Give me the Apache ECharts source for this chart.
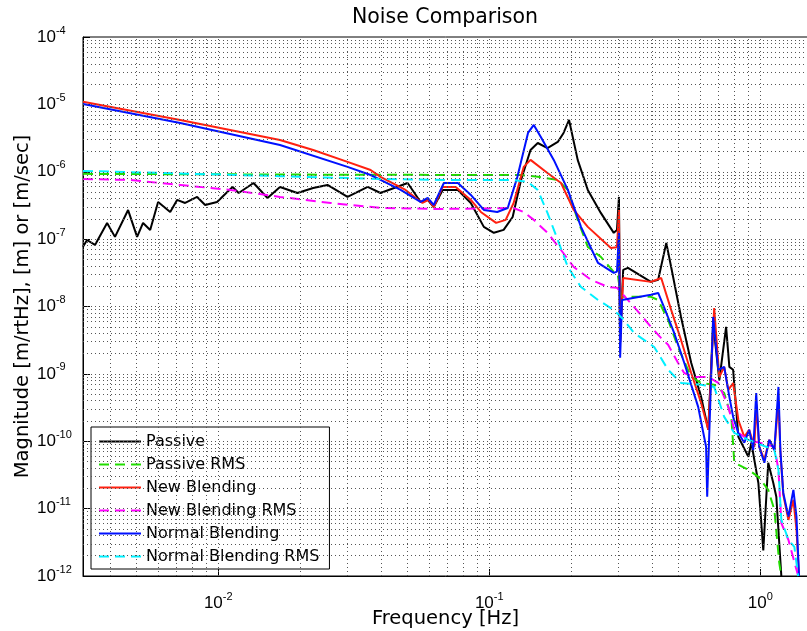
<!DOCTYPE html>
<html>
<head>
<meta charset="utf-8">
<title>Noise Comparison</title>
<script src="https://cdn.jsdelivr.net/npm/echarts@6/dist/echarts.min.js"></script>
<style>
  html, body { margin: 0; padding: 0; background: #fff; }
  #chart { width: 807px; height: 631px; }
</style>
</head>
<body>
<div id="chart"></div>
<script>
// [frequency Hz, magnitude]
const passive = [
  [0.00317, 7.7e-8], [0.00328, 9.7e-8], [0.00351, 8.2e-8], [0.00389, 1.74e-7], [0.00416, 1.08e-7],
  [0.00465, 2.7e-7], [0.00502, 1.08e-7], [0.00528, 1.74e-7], [0.00561, 1.37e-7], [0.0060, 3.56e-7],
  [0.00665, 2.53e-7], [0.00705, 3.82e-7], [0.00755, 3.44e-7], [0.00836, 4.23e-7], [0.00895, 3.21e-7],
  [0.0099, 3.56e-7], [0.0108, 5.0e-7], [0.0113, 5.95e-7], [0.0119, 4.84e-7], [0.0135, 6.8e-7],
  [0.0152, 4.08e-7], [0.0169, 5.95e-7], [0.0196, 4.84e-7], [0.0224, 5.75e-7], [0.0253, 6.37e-7],
  [0.030, 4.23e-7], [0.0356, 5.95e-7], [0.0397, 4.84e-7], [0.050, 6.8e-7], [0.0558, 3.56e-7],
  [0.0593, 3.82e-7], [0.0624, 3.0e-7], [0.0673, 5.37e-7], [0.0766, 5.37e-7], [0.0855, 3.44e-7],
  [0.0955, 1.52e-7], [0.104, 1.24e-7], [0.113, 1.37e-7], [0.122, 2.13e-7], [0.131, 7.55e-7],
  [0.142, 2.1e-6], [0.151, 2.67e-6], [0.164, 2.25e-6], [0.179, 2.77e-6], [0.188, 3.77e-6],
  [0.197, 5.87e-6], [0.212, 1.5e-6], [0.231, 5.37e-7], [0.258, 2.45e-7], [0.288, 1.24e-7],
  [0.296, 1.37e-7], [0.301, 4.23e-7], [0.304, 3.0e-9], [0.312, 3.49e-8], [0.325, 3.75e-8],
  [0.395, 2.32e-8], [0.420, 2.5e-8], [0.450, 8.8e-8], [0.469, 3.86e-8], [0.510, 7.0e-9],
  [0.556, 1.46e-9], [0.605, 4.56e-10], [0.643, 1.48e-10], [0.670, 5.7e-9], [0.706, 8.0e-10],
  [0.748, 4.98e-9], [0.769, 1.27e-9], [0.794, 1.15e-9], [0.830, 1.16e-10], [0.904, 5.9e-11],
  [0.927, 9.5e-11], [0.984, 2.4e-11], [1.026, 2.4e-12], [1.07, 4.8e-11], [1.117, 2.4e-11],
  [1.146, 1.5e-11], [1.196, 1e-12]
];

const passiveRms = [
  [0.00317, 9.3e-7], [0.0169, 9.1e-7], [0.0397, 9.0e-7], [0.131, 8.96e-7], [0.151, 8.4e-7],
  [0.179, 7.55e-7], [0.195, 5.37e-7], [0.212, 1.93e-7], [0.231, 7.66e-8], [0.258, 5.45e-8],
  [0.288, 3.26e-8], [0.298, 3.0e-8], [0.306, 1.39e-8], [0.395, 1.39e-8], [0.420, 1.25e-8],
  [0.457, 6.3e-9], [0.497, 2.51e-9], [0.556, 9.0e-10], [0.605, 7.34e-10], [0.676, 6.9e-10],
  [0.736, 5.2e-10], [0.782, 2.3e-10], [0.802, 4.8e-11], [0.904, 3.77e-11], [0.984, 2.96e-11],
  [1.07, 1.9e-11], [1.127, 9.6e-12], [1.175, 1.57e-12], [1.196, 1e-12]
];

const newBlending = [
  [0.00317, 1.09e-5], [0.00724, 5.87e-6], [0.0169, 2.96e-6], [0.0224, 2.1e-6], [0.030, 1.4e-6],
  [0.0365, 1.06e-6], [0.0397, 8.4e-7], [0.0491, 5.37e-7], [0.0567, 3.44e-7], [0.0597, 3.82e-7],
  [0.0624, 3.0e-7], [0.0673, 5.95e-7], [0.0752, 5.95e-7], [0.0855, 3.82e-7], [0.0931, 2.53e-7],
  [0.106, 1.74e-7], [0.115, 1.93e-7], [0.123, 3.44e-7], [0.134, 1.18e-6], [0.142, 1.5e-6],
  [0.164, 9.6e-7], [0.184, 6.8e-7], [0.205, 2.71e-7], [0.231, 1.52e-7], [0.281, 7.4e-8],
  [0.296, 7.6e-8], [0.301, 2.7e-7], [0.304, 3.0e-9], [0.312, 2.65e-8], [0.395, 2.32e-8],
  [0.431, 2.65e-8], [0.469, 8.9e-9], [0.510, 3.19e-9], [0.556, 1.03e-9], [0.605, 3.7e-10],
  [0.643, 1.48e-10], [0.676, 9.5e-9], [0.706, 9.0e-10], [0.736, 1.27e-9], [0.762, 5.8e-10],
  [0.794, 7.3e-10], [0.830, 2.07e-10], [0.873, 1.16e-10], [0.910, 1.48e-10], [0.951, 8.3e-11],
  [0.966, 3.47e-10], [0.991, 8.3e-11], [1.035, 5.3e-11], [1.08, 1.05e-10], [1.127, 7.4e-11],
  [1.167, 4.1e-10], [1.186, 7e-11], [1.216, 1.6e-11], [1.27, 6.8e-12], [1.325, 1.35e-11],
  [1.36, 4.9e-12], [1.39, 1e-12]
];

const newBlendingRms = [
  [0.00317, 7.8e-7], [0.00473, 7.55e-7], [0.00724, 6.37e-7], [0.0111, 5.37e-7], [0.0169, 4.23e-7],
  [0.026, 3.44e-7], [0.0397, 2.9e-7], [0.066, 2.8e-7], [0.123, 2.9e-7], [0.134, 2.53e-7],
  [0.146, 1.93e-7], [0.164, 1.24e-7], [0.184, 6.9e-8], [0.205, 3.86e-8], [0.237, 2.5e-8],
  [0.274, 1.95e-8], [0.296, 1.9e-8], [0.342, 9.9e-9], [0.395, 4.98e-9], [0.431, 3.4e-9],
  [0.457, 2.7e-9], [0.497, 1.46e-9], [0.524, 1.03e-9], [0.570, 9.0e-10], [0.643, 9.0e-10],
  [0.700, 7.34e-10], [0.762, 3.24e-10], [0.802, 1.48e-10], [0.904, 1.05e-10], [1.127, 8.3e-11],
  [1.167, 3.77e-11], [1.196, 6.1e-12], [1.27, 3.44e-12], [1.38, 1e-12]
];

const normalBlending = [
  [0.00317, 1.01e-5], [0.00724, 5.3e-6], [0.0169, 2.5e-6], [0.030, 1.18e-6], [0.0365, 8.95e-7],
  [0.0397, 7.55e-7], [0.0471, 5.37e-7], [0.0558, 3.56e-7], [0.0593, 4.08e-7], [0.0624, 3.21e-7],
  [0.068, 6.8e-7], [0.0766, 6.8e-7], [0.0855, 4.53e-7], [0.0955, 2.71e-7], [0.107, 2.53e-7],
  [0.117, 2.9e-7], [0.127, 8.4e-7], [0.139, 3.77e-6], [0.146, 4.95e-6], [0.155, 3.28e-6],
  [0.173, 1.5e-6], [0.195, 5.37e-7], [0.218, 1.52e-7], [0.252, 4.43e-8], [0.288, 3.15e-8],
  [0.296, 3.3e-8], [0.301, 1.24e-7], [0.304, 1.73e-9], [0.309, 1.25e-8], [0.395, 1.49e-8],
  [0.420, 1.59e-8], [0.441, 9.9e-9], [0.481, 4.06e-9], [0.524, 1.46e-9], [0.590, 3.24e-10],
  [0.631, 8.3e-11], [0.637, 1.5e-11], [0.670, 7.0e-9], [0.700, 1.15e-9], [0.736, 1.27e-9],
  [0.769, 4.56e-10], [0.794, 2.3e-10], [0.830, 1.33e-10], [0.873, 9.5e-11], [0.910, 1.48e-10],
  [0.942, 7.4e-11], [0.966, 5.2e-10], [0.991, 8.3e-11], [1.035, 4.8e-11], [1.08, 1.05e-10],
  [1.127, 7.4e-11], [1.167, 6.4e-10], [1.186, 7.4e-11], [1.216, 1.71e-11], [1.27, 7.6e-12],
  [1.325, 1.9e-11], [1.36, 7.6e-12], [1.39, 1e-12]
];

const normalBlendingRms = [
  [0.00317, 1.03e-6], [0.0169, 8.6e-7], [0.0397, 7.8e-7], [0.0703, 7.55e-7], [0.123, 7.55e-7],
  [0.139, 7.06e-7], [0.151, 5.37e-7], [0.164, 2.45e-7], [0.179, 9.7e-8], [0.195, 3.86e-8],
  [0.218, 1.95e-8], [0.252, 1.25e-8], [0.288, 8.9e-9], [0.314, 6.3e-9], [0.342, 4.06e-9],
  [0.406, 2.51e-9], [0.457, 1.15e-9], [0.510, 7.34e-10], [0.605, 6.9e-10], [0.676, 6.4e-10],
  [0.736, 2.3e-10], [0.802, 1.33e-10], [0.904, 1.05e-10], [1.127, 7.4e-11], [1.167, 3.77e-11],
  [1.196, 6.8e-12], [1.27, 3.44e-12], [1.336, 2.7e-12], [1.38, 1e-12]
];

const seriesNames = ['Passive', 'Passive RMS', 'New Blending', 'New Blending RMS', 'Normal Blending', 'Normal Blending RMS'];
const seriesData = [passive, passiveRms, newBlending, newBlendingRms, normalBlending, normalBlendingRms];
const seriesColors = ['#000000', '#22dd00', '#ff2010', '#ff00ff', '#0010ff', '#00f0ff'];
const seriesDashed = [false, true, false, true, false, true];

const FREQ_MIN = 0.00317, FREQ_MAX = 1.5;
const MAG_MIN = 1e-12, MAG_MAX = 1e-4;
const FONT = 'Liberation Sans';
const TEXT_FONT = 'DejaVu Sans';

// 1..9 x 10^k positions for the dotted MATLAB-style grid
function logGridValues(lo, hi) {
  const vals = [];
  for (let k = Math.floor(Math.log10(lo)); k <= Math.ceil(Math.log10(hi)); k++) {
    for (let m = 1; m <= 9; m++) {
      const v = m * Math.pow(10, k);
      if (v > lo * 1.0001 && v < hi * 0.9999) vals.push(v);
    }
  }
  return vals;
}

function powerLabel(value) {
  const e = Math.log10(value);
  const r = Math.round(e);
  if (Math.abs(e - r) > 1e-6) return '';
  return '{base|10}{sup|' + r + '}';
}

const labelRich = {
  base: { fontSize: 17, fontFamily: FONT, color: '#000', lineHeight: 24 },
  sup: { fontSize: 11, fontFamily: FONT, color: '#000', lineHeight: 12, verticalAlign: 'top' }
};

const chart = echarts.init(document.getElementById('chart'));

const gridMarks = logGridValues(FREQ_MIN, FREQ_MAX).map(v => [{ coord: [v, MAG_MIN] }, { coord: [v, MAG_MAX] }])
  .concat(logGridValues(MAG_MIN, MAG_MAX).map(v => [{ coord: [FREQ_MIN, v] }, { coord: [FREQ_MAX, v] }]));

const series = [{
  name: 'grid',
  type: 'line',
  data: [],
  silent: true,
  z: 1,
  markLine: {
    silent: true,
    animation: false,
    symbol: ['none', 'none'],
    label: { show: false },
    lineStyle: { color: '#555', width: 1, type: [1, 3] },
    emphasis: { disabled: true },
    data: gridMarks
  }
}];

seriesNames.forEach((name, i) => {
  series.push({
    name: name,
    type: 'line',
    data: seriesData[i],
    symbol: 'none',
    z: 3,
    lineStyle: {
      color: seriesColors[i],
      width: 2,
      type: seriesDashed[i] ? [10, 6] : 'solid'
    },
    itemStyle: { color: seriesColors[i] },
    emphasis: { disabled: true }
  });
});

chart.setOption({
  animation: false,
  backgroundColor: '#fff',
  textStyle: { fontFamily: TEXT_FONT },
  title: {
    text: 'Noise Comparison',
    left: 445,
    top: 7,
    padding: 0,
    textAlign: 'center',
    textStyle: { fontSize: 20.5, fontWeight: 'normal', color: '#000', fontFamily: TEXT_FONT }
  },
  grid: {
    left: 83,
    right: -1,
    top: 37,
    bottom: 55,
    show: true,
    outerBoundsMode: 'none',
    containLabel: false,
    borderColor: '#000',
    borderWidth: 1
  },
  legend: {
    data: seriesNames,
    orient: 'vertical',
    left: 91,
    top: 427,
    itemWidth: 42,
    itemHeight: 14,
    itemGap: 6,
    padding: [6, 10, 4, 7],
    backgroundColor: '#fff',
    borderColor: '#000',
    borderWidth: 1,
    borderRadius: 0,
    itemStyle: { opacity: 0 },
    textStyle: { fontSize: 16, color: '#000', fontFamily: TEXT_FONT, lineHeight: 17 }
  },
  xAxis: {
    type: 'log',
    min: FREQ_MIN,
    max: FREQ_MAX,
    name: 'Frequency [Hz]',
    nameLocation: 'middle',
    nameGap: 33,
    nameMoveOverlap: false,
    nameTextStyle: { fontSize: 19.5, color: '#000', fontFamily: TEXT_FONT },
    axisLine: { show: true, lineStyle: { color: '#000', width: 1 } },
    axisTick: { show: true, inside: true, length: 7, lineStyle: { color: '#000' } },
    splitLine: { show: false },
    axisLabel: { margin: 15, formatter: powerLabel, rich: labelRich, showMinLabel: false, showMaxLabel: false }
  },
  yAxis: {
    type: 'log',
    min: MAG_MIN,
    max: MAG_MAX,
    name: 'Magnitude [m/rtHz], [m] or [m/sec]',
    nameLocation: 'middle',
    nameGap: 50,
    nameMoveOverlap: false,
    nameTextStyle: { fontSize: 19.5, color: '#000', fontFamily: TEXT_FONT },
    axisLine: { show: true, lineStyle: { color: '#000', width: 1 } },
    axisTick: { show: true, inside: true, length: 7, lineStyle: { color: '#000' } },
    splitLine: { show: false },
    axisLabel: { margin: 46, align: 'left', formatter: powerLabel, rich: labelRich }
  },
  series: series
});
</script>
</body>
</html>
